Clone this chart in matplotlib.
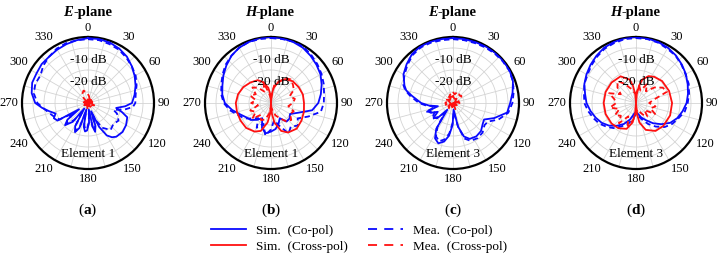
import numpy as np
import matplotlib
matplotlib.use("Agg")
import matplotlib.pyplot as plt
from matplotlib.lines import Line2D

plt.rcParams['font.family'] = ['Liberation Serif', 'DejaVu Serif']
plt.rcParams['mathtext.fontset'] = 'custom'
plt.rcParams['mathtext.rm'] = 'Liberation Serif'
plt.rcParams['mathtext.bf'] = 'Liberation Serif:bold'

# ---------------- data (angle in degrees, gain in dB) ----------------
titles = ["E", "H", "E", "H"]
elements = ["Element 1", "Element 1", "Element 3", "Element 3"]
panel_letters = ["a", "b", "c", "d"]
ring_labels = ["-10 dB", "-20 dB"]
angle_labels = [0, 30, 60, 90, 120, 150, 180, 210, 240, 270, 300, 330]
legend_labels = ["Sim.  (Co-pol)", "Sim.  (Cross-pol)", "Mea.  (Co-pol)", "Mea.  (Cross-pol)"]

# Panel (a)
a_sim_co_ang = [0, 10, 20, 30, 40, 50, 60, 70, 80, 90, 95, 100, 105, 110, 120, 130, 140, 145, 150, 155, 159,
                162, 166, 169, 173, 177, 182, 186, 190, 194, 199, 204, 209, 214, 219, 226, 231, 235, 240, 246,
                252, 258, 264, 270, 280, 290, 300, 310, 320, 330, 340, 350]
a_sim_co = [-0.5, -0.5, -0.8, -1.5, -2.5, -4, -5.5, -7, -8.5, -10, -13, -17, -14, -11, -10, -9.5, -10, -11, -13, -18, -26,
            -19, -16.5, -19, -27, -21, -17.5, -17, -19, -27, -18, -15.5, -18, -27, -19, -15.5, -18, -25, -14, -13,
            -14.5, -12, -9, -6, -4, -3, -3, -2.5, -2.5, -2, -1.5, -1]
a_mea_co_ang = [0, 10, 20, 30, 40, 50, 60, 70, 80, 90, 95, 100, 105, 110, 115, 120, 130, 140, 150, 155, 160, 163,
                166, 169, 173, 178, 182, 186, 190, 194, 199, 204, 209, 214, 219, 226, 231, 235, 240, 250, 262,
                270, 280, 290, 300, 310, 320, 330, 340, 350]
a_mea_co = [-1, -1, -1.5, -2, -3, -4, -5, -6.5, -8, -8.5, -9.5, -13, -18, -16, -15, -14, -15, -14, -17, -21, -25, -19,
            -17, -19, -26, -21, -18.5, -18, -20, -26, -19, -16, -19, -26, -20, -16.5, -18, -22, -15, -13, -10,
            -7, -5, -4.5, -5, -3.5, -2.5, -1.5, -1, -1]
a_sim_x_ang = list(range(0, 360, 20))
a_sim_x = [-28.5, -29.5, -29, -30, -29, -28.5, -30, -29, -28.5, -29.5, -29, -30, -28.5, -29.5, -29, -30, -28.5, -29]
a_mea_x_ang = list(range(0, 360, 10))
a_mea_x = [-26, -27, -28, -27, -29, -28, -29, -28, -29, -28, -29, -27, -28, -29, -28, -28, -29, -28,
           -27, -28, -29, -29, -28, -29, -28, -29, -28, -29, -28, -29, -28, -29, -26, -25, -24, -25]

# Panel (b)
b_sim_co_ang = list(range(0, 360, 10))
b_sim_co = [0, -0.2, -0.5, -1, -2, -3, -4, -5.5, -7, -8.5, -11, -17, -20, -19, -19, -22, -20, -18,
            -17, -16, -18, -22, -20, -18, -17, -15, -12, -9, -7.5, -6.5, -5, -3.5, -2, -1, -0.5, 0]
b_mea_co_ang = list(range(0, 360, 10))
b_mea_co = [-0.5, -0.5, -0.3, -0.5, -1.5, -2.5, -3.5, -4.5, -5.5, -6, -7, -12, -16, -14, -16, -14, -19, -22,
            -18, -15, -20, -17, -21, -19, -16, -14, -11, -8.5, -7, -6, -4.5, -3, -2, -1, -0.5, -0.5]
b_sim_x_ang = [0, 5, 10, 20, 30, 45, 60, 75, 90, 105, 120, 135, 150, 160, 170, 175, 180, 185, 190, 200, 210, 225,
               240, 255, 270, 285, 300, 315, 330, 340, 350, 355]
b_sim_x = [-30, -26, -23, -19.5, -17.5, -16, -15.5, -15, -15, -14.5, -14, -13.5, -14.5, -16.5, -21, -25, -30, -25,
           -21, -16.5, -15, -14, -14, -14, -14, -14.5, -15.5, -16.8, -18, -20, -23, -26]
b_mea_x_ang = list(range(0, 360, 10))
b_mea_x = [-28, -22, -20, -17, -16, -17, -18, -21, -19, -20, -22, -19, -20, -18, -19, -22, -24, -27,
           -28, -25, -22, -21, -23, -19, -22, -20, -24, -21, -23, -20, -22, -19, -21, -24, -20, -26]

# Panel (c)
c_sim_co_ang = [0, 10, 20, 30, 40, 50, 60, 70, 80, 90, 100, 110, 118, 125, 135, 145, 155, 162, 168, 175, 181,
                187, 193, 200, 207, 213, 220, 226, 233, 240, 246, 252, 258, 264, 270, 280, 285, 290, 300, 310,
                320, 330, 340, 350]
c_sim_co = [-0.5, -0.5, -0.5, -0.3, -0.2, -0.2, -0.3, -1, -2.5, -4, -5, -10, -14, -13.5, -12, -11.5, -12, -14, -19, -27, -20,
            -15, -12, -10.5, -12, -16, -26, -20, -19, -22, -19, -18, -23, -19, -15.5, -11, -8, -6.5, -4, -2.5,
            -1, -0.3, -0.3, -0.5]
c_mea_co_ang = [0, 10, 20, 30, 40, 50, 60, 70, 80, 90, 100, 110, 118, 125, 135, 145, 155, 162, 168, 175, 181,
                187, 193, 200, 207, 213, 220, 226, 233, 240, 246, 252, 258, 264, 270, 280, 285, 290, 300, 310,
                320, 330, 340, 350]
c_mea_co = [-1, -1, -1, -0.8, -0.6, -0.5, -0.5, -1, -2, -3, -4.5, -8, -12, -12.5, -11, -10.5, -11, -13, -19, -26, -21,
            -16, -13, -11.5, -13, -17, -24, -21, -18, -20, -21, -17, -22, -18, -14.5, -10, -7.5, -6, -4.5, -3,
            -1.5, -0.8, -0.8, -1]
c_sim_x_ang = list(range(0, 360, 20))
c_sim_x = [-27, -28, -27.5, -29, -28, -29.5, -28.5, -29, -30, -29, -28.5, -29.5, -28, -29, -28.5, -27.5, -28, -27]
c_mea_x_ang = list(range(0, 360, 10))
c_mea_x = [-25, -26, -25, -24.5, -25.5, -25, -26, -27, -28, -27, -28, -29, -28, -29, -28, -29, -27, -28,
           -29, -28, -29, -28, -27, -28, -27, -26, -27, -26.5, -27, -26, -27, -28, -26, -27, -26, -25.5]

# Panel (d)
d_sim_co_ang = list(range(0, 360, 10))
d_sim_co = [0, -0.2, -0.5, -1, -1.8, -2.8, -3.8, -5, -6, -7, -8.5, -10, -12, -15, -18, -21, -23, -25,
            -26, -25, -22, -19, -16.5, -14, -12, -10.5, -9, -7.5, -6.5, -5, -4, -3, -2, -1, -0.5, 0]
d_mea_co_ang = list(range(0, 360, 10))
d_mea_co = [-0.5, -0.5, -0.8, -1.5, -2, -3, -4, -4.5, -5.5, -6.5, -7.5, -9.5, -11, -13, -16, -19, -22, -24,
            -25, -23, -20, -18, -15, -13, -11, -9.5, -8, -6.5, -6, -5, -4.5, -3.5, -2.5, -1.5, -1, -0.5]
d_sim_x_ang = [0, 5, 10, 15, 25, 35, 50, 70, 90, 110, 130, 145, 160, 170, 175, 180, 185, 190, 200, 215, 230, 250,
               270, 290, 310, 330, 345, 350, 355]
d_sim_x = [-30, -26, -22, -19, -16.5, -15.5, -14.5, -14, -13.6, -13.5, -13.8, -14.5, -17, -21, -25, -30, -25, -21,
           -17.5, -16, -15.5, -15.3, -15.3, -15.3, -15.5, -16, -19, -22, -26]
d_mea_x_ang = list(range(0, 360, 10))
d_mea_x = [-26, -22, -24, -20, -23, -19, -16, -15, -22, -24, -21, -23, -20, -25, -22, -24, -26, -27,
           -25, -22, -19, -23, -18, -21, -19, -22, -18, -21, -20, -17, -22, -19, -17, -20, -23, -25]

panels = [
    (a_sim_co_ang, a_sim_co, a_mea_co_ang, a_mea_co, a_sim_x_ang, a_sim_x, a_mea_x_ang, a_mea_x),
    (b_sim_co_ang, b_sim_co, b_mea_co_ang, b_mea_co, b_sim_x_ang, b_sim_x, b_mea_x_ang, b_mea_x),
    (c_sim_co_ang, c_sim_co, c_mea_co_ang, c_mea_co, c_sim_x_ang, c_sim_x, c_mea_x_ang, c_mea_x),
    (d_sim_co_ang, d_sim_co, d_mea_co_ang, d_mea_co, d_sim_x_ang, d_sim_x, d_mea_x_ang, d_mea_x),
]

BLUE = '#0a0aff'
RED = '#ff1010'
W, H = 719, 257
fig = plt.figure(figsize=(W / 100, H / 100), dpi=100)

centers_x = [88, 271, 453, 636]
cy = 103
R = 66
GAP = 3.5


def closed(ang, val):
    a = np.deg2rad(np.append(ang, ang[0]))
    v = np.append(val, val[0])
    return a, v


for i, cx in enumerate(centers_x):
    ax = fig.add_axes([(cx - R) / W, (H - cy - R) / H, 2 * R / W, 2 * R / H], projection='polar')
    ax.set_theta_zero_location('N')
    ax.set_theta_direction(-1)
    ax.set_ylim(-30, 0)
    ax.set_yticks([-25, -20, -15, -10, -5])
    ax.set_yticklabels([])
    ticks = np.arange(0, 360, 15)
    ax.set_xticks(np.deg2rad(ticks))
    ax.set_xticklabels([])
    ax.grid(True, color='#d4d4d4', lw=0.6)
    ax.spines['polar'].set_linewidth(1.6)
    ax.spines['polar'].set_color('black')

    # angle labels, edge-anchored just outside the circle
    for ang in angle_labels:
        s, c = np.sin(np.deg2rad(ang)), np.cos(np.deg2rad(ang))
        xa = 0.5 + (R + GAP) / (2 * R) * s
        ya = 0.5 + (R + GAP) / (2 * R) * c
        ha = 'left' if s > 0.3 else ('right' if s < -0.3 else 'center')
        va = 'bottom' if c > 0.3 else ('top' if c < -0.3 else 'center')
        ax.text(xa, ya, str(ang), transform=ax.transAxes, ha=ha, va=va, fontsize=9, clip_on=False)

    sca, sc, mca, mc, sxa, sx, mxa, mx = panels[i]
    t, v = closed(sca, sc)
    ax.plot(t, v, color=BLUE, lw=1.3, zorder=4)
    t, v = closed(mca, mc)
    ax.plot(t, v, color=BLUE, lw=1.3, dashes=(3, 2), zorder=4)
    t, v = closed(sxa, sx)
    ax.plot(t, v, color=RED, lw=1.3, zorder=5)
    t, v = closed(mxa, mx)
    ax.plot(t, v, color=RED, lw=1.3, dashes=(3, 2), zorder=5)

    ax.text(0, -10.3, ring_labels[0], ha='center', va='center', fontsize=9.5, zorder=6)
    ax.text(0, -20.3, ring_labels[1], ha='center', va='center', fontsize=9.5, zorder=6)
    ax.text(0.5, 0.11, elements[i], transform=ax.transAxes, ha='center', va='center', fontsize=9.5, zorder=6)

    # title
    fig.text((cx - 15) / W, 1 - 12 / H, titles[i], ha='right', va='center', fontsize=10.5,
             fontweight='bold', fontstyle='italic')
    fig.text((cx - 15) / W, 1 - 12 / H, '-plane', ha='left', va='center', fontsize=10.5, fontweight='bold')
    # panel label
    fig.text(cx / W, 1 - 210 / H, r'($\mathbf{%s}$)' % panel_letters[i], ha='center', va='center', fontsize=11)

handles = [
    Line2D([], [], color=BLUE, lw=1.3),
    Line2D([], [], color=RED, lw=1.3),
    Line2D([], [], color=BLUE, lw=1.3, dashes=(5, 4)),
    Line2D([], [], color=RED, lw=1.3, dashes=(5, 4)),
]
fig.legend(handles, legend_labels, ncol=2, loc='center', bbox_to_anchor=(359 / W, 1 - 238.5 / H),
           frameon=False, fontsize=9.5, handlelength=2.65, columnspacing=1.5, handletextpad=0.75,
           labelspacing=0.3)

fig.savefig('out.png', dpi=100)
